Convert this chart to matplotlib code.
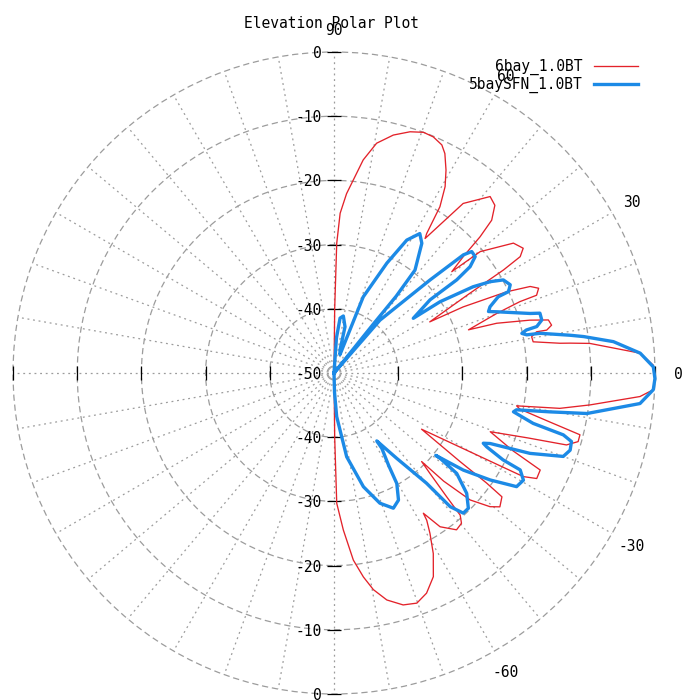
import numpy as np
import matplotlib
matplotlib.use('Agg')
import matplotlib.pyplot as plt

# elevation patterns, angle in degrees / level in dB
red_deg = [-90, -89.4, -88.8, -86.6, -84.1, -81.8, -79.7, -76.9, -73.4, -70.2, -67.2, -64.0,
           -61.2, -59.1, -57.8, -57.5,
           -55.4, -52.0, -49.7, -48.4, -47.7, -46.3, -45.3,
           -44.6, -43.0, -40.6, -38.9, -36.4, -35.8, -35.1, -32.7,
           -30.0, -28.7, -27.5, -25.2, -23.5, -20.6,
           -18.5, -17.2, -15.7, -14.1, -12.8, -11.0, -10.2,
           -8.9, -7.1, -4.4, -3.0, -0.5, 1.4, 3.7, 6.6, 7.2, 7.5, 8.9,
           10.4, 11.5, 11.4, 12.4, 13.9, 15.1, 17.0, 17.8,
           20.1, 21.0, 21.0, 22.5, 23.8, 25.2, 27.1, 28.1,
           30.4, 31.3, 32.0, 33.4, 35.9, 39.7, 40.7,
           42.0, 43.0, 44.1, 46.2, 48.5, 52.7, 55.9,
           56.4, 57.0, 57.5, 59.2, 61.1, 63.2, 64.7, 67.2, 69.6, 72.5, 76.0, 79.5,
           82.2, 84.3, 86.0, 87.8, 88.8, 89.4, 90]
red_db = [-50, -40, -29.7, -25.5, -20.7, -17.9, -15.7, -13.7, -12.3, -11.9, -12.8, -14.7,
          -17.9, -20.9, -22.9, -24.1,
          -20.9, -19.0, -19.3, -20.4, -23.9, -28.4, -30.6,
          -26.0, -21.0, -18.0, -16.8, -17.5, -20.7, -26.0, -33.8,
          -25.1, -16.4, -14.4, -14.5, -19.6, -24.0,
          -18.1, -12.1, -10.5, -10.5, -15.5, -20.5, -21.1,
          -14.4, -9.8, -2.2, -0.2, 0.0, -0.25, -2.2, -9.9, -12.9, -14.5, -18.6,
          -18.7, -17.8, -16.2, -15.3, -15.6, -18.4, -23.5, -28.0,
          -23.0, -19.0, -16.2, -15.5, -16.6, -20.3, -27.4, -33.1,
          -25.5, -19.1, -15.8, -14.7, -15.5, -20.4, -25.8,
          -22.9, -18.9, -15.8, -13.8, -13.3, -16.8, -24.7,
          -23.9, -21.6, -19.3, -16.2, -13.9, -11.7, -10.7, -10.1, -10.0, -10.6, -11.8, -13.6,
          -16.5, -19.8, -22.0, -25.1, -29.8, -40, -50]

blue_deg = [-90, -88.5, -86.5, -81.4, -75.5, -70.6, -66.3, -63.1, -60.4, -59.4, -57.6, -57.8,
            -53.7, -50.0, -49.0, -47.3, -45.2, -42.2, -39.3, -38.8, -39.0,
            -36.9, -34.4, -31.9, -29.5, -27.5, -27.2, -25.8, -25.2,
            -24.3, -22.3, -20.0, -18.1, -16.1, -15.1, -14.2, -12.2,
            -11.4, -10.2, -9.1, -5.7, -3.0, -1.0, 1.1, 3.7, 6.4, 8.3, 9.1, 10.9, 11.2, 11.9,
            12.6, 12.9, 14.3, 16.2, 16.9, 20.6, 21.7, 23.0,
            24.9, 25.0, 26.6, 28.8, 30.3, 31.8, 33.9, 34.6,
            37.3, 37.2, 38.0, 39.5, 41.4, 42.4, 44.1, 49.0, 50.5,
            51.2, 51.0, 51.8, 55.9, 58.4, 61.3, 64.3, 69.0, 72.0,
            75.4, 76.6, 80.7, 83.7, 86.0, 90]
blue_db = [-50, -47.0, -43.2, -36.8, -31.7, -28.5, -27.0, -27.8, -30.2, -33.3, -36.1, -37.5,
           -33.5, -27.6, -22.4, -20.3, -20.3, -22.1, -25.3, -28.8, -29.6,
           -24.8, -20.5, -16.5, -16.1, -17.3, -20.4, -23.6, -24.3,
           -23.3, -17.0, -12.0, -11.3, -11.5, -13.0, -18.0, -21.4,
           -21.0, -15.8, -10.1, -2.1, -0.2, 0.0, -0.25, -2.2, -6.2, -10.7, -12.8, -17.3, -19.4, -20.1,
           -19.3, -17.6, -16.6, -16.6, -18.1, -22.9, -24.1, -23.6,
           -21.8, -20.0, -19.3, -19.9, -21.8, -24.5, -30.1, -35.0,
           -31.2, -26.0, -23.1, -21.5, -21.4, -22.7, -29.2, -39.1, -50,
           -40.0, -34.6, -29.6, -25.6, -24.5, -26.4, -31.0, -37.3, -47.0,
           -46.3, -42.6, -41.0, -41.4, -44.5, -50]

db_ticks = [-50, -40, -30, -20, -10, 0]
angle_ticks = [90, 60, 30, 0, -30, -60]

DB_MIN = -50
FONT = dict(family='DejaVu Sans Mono', size=10.5)
GRID = '#9c9c9c'


def to_r(db):
    return np.clip(np.asarray(db, dtype=float) - DB_MIN, 0, None)


fig = plt.figure(figsize=(6.82, 7.0), dpi=100)
ax = fig.add_axes([0.0191, 0.0086, 0.9413, 0.9171], projection='polar')
ax.set_ylim(0, 50)
ax.spines['polar'].set_visible(False)
ax.set_xticks(np.radians(np.arange(0, 360, 10)))
ax.set_xticklabels([])
ax.set_yticks([10, 20, 30, 40, 50])
ax.set_yticklabels([])
ax.tick_params(length=0)
ax.xaxis.grid(True, color=GRID, linestyle=(0, (1.5, 3)), linewidth=0.9)
ax.yaxis.grid(True, color=GRID, linestyle=(0, (5, 3)), linewidth=0.9)
for gl in ax.yaxis.get_gridlines():
    gl.set_clip_on(False)
ax.set_axisbelow(True)

ax.plot(np.radians(red_deg), to_r(red_db), color='#e3222a', lw=0.95,
        label='6bay_1.0BT', clip_on=False, zorder=3)
ax.plot(np.radians(blue_deg), to_r(blue_db), color='#1c8ae6', lw=2.4,
        label='5baySFN_1.0BT', clip_on=False, zorder=4)

# axis ticks along the horizontal and vertical axes
rr = to_r(db_ticks[1:])
for th in (0, np.pi):
    ax.plot([th] * len(rr), rr, ls='none', marker='|', ms=9.5, mew=0.9, color='k', clip_on=False, zorder=2)
for th in (np.pi / 2, 3 * np.pi / 2):
    ax.plot([th] * len(rr), rr, ls='none', marker='_', ms=9.5, mew=0.9, color='k', clip_on=False, zorder=2)

# dB labels along the vertical axis
for db in db_ticks:
    r = db - DB_MIN
    for th in ((np.pi / 2,) if r == 0 else (np.pi / 2, 3 * np.pi / 2)):
        ax.annotate(str(db), xy=(th, r), xytext=(-8.5, 0), textcoords='offset points',
                    ha='right', va='center_baseline', annotation_clip=False,
                    fontfamily=FONT['family'], fontsize=FONT['size'])

# angle labels
for a in angle_ticks:
    ax.text(np.radians(a), 53.6, str(a), ha='center', va='center_baseline', fontdict=FONT)

fig.text(331.7 / 682, 1 - 22 / 700, 'Elevation Polar Plot', ha='center', va='center_baseline',
         fontdict=FONT)

ax.legend(loc='upper right', bbox_to_anchor=(638 / 682, 1 - 59 / 700), bbox_transform=fig.transFigure,
          frameon=False, markerfirst=False, handlelength=3.0, handletextpad=0.8,
          labelspacing=0.1, borderpad=0, borderaxespad=0, prop=FONT)

fig.savefig('out.png', dpi=100)
